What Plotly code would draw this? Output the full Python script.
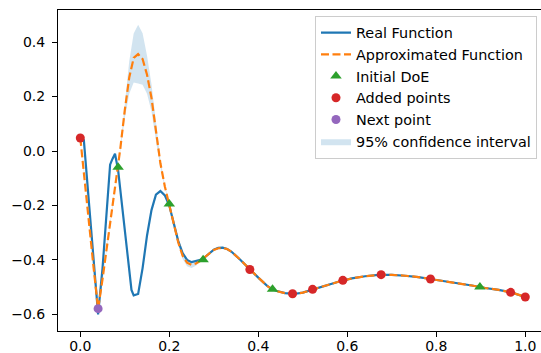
import plotly.graph_objects as go

# ---- data ----
# true objective sampled along [0, 1]
real_x = [0.0, 0.008, 0.02, 0.03, 0.04, 0.05, 0.06, 0.067, 0.072, 0.078, 0.085, 0.09,
          0.10, 0.11, 0.115, 0.12, 0.13, 0.14, 0.15, 0.16, 0.17, 0.18, 0.19, 0.20,
          0.21, 0.22, 0.23, 0.24, 0.25, 0.26, 0.27, 0.28, 0.29, 0.30, 0.31, 0.32,
          0.33, 0.34, 0.36, 0.38, 0.40, 0.42, 0.43, 0.44, 0.46, 0.48, 0.50, 0.52,
          0.55, 0.58, 0.61, 0.64, 0.67, 0.70, 0.73, 0.76, 0.79, 0.82, 0.85, 0.88,
          0.91, 0.94, 0.97, 1.0]
real_y = [0.05, 0.04, -0.20, -0.41, -0.60, -0.43, -0.20, -0.05, -0.03, -0.01, -0.07, -0.14,
          -0.30, -0.44, -0.51, -0.53, -0.525, -0.43, -0.31, -0.217, -0.16, -0.147, -0.163, -0.20,
          -0.27, -0.33, -0.375, -0.40, -0.408, -0.405, -0.40, -0.39, -0.375, -0.362, -0.356, -0.355,
          -0.36, -0.37, -0.40, -0.433, -0.465, -0.495, -0.506, -0.513, -0.522, -0.525, -0.52, -0.51,
          -0.495, -0.48, -0.468, -0.46, -0.455, -0.455, -0.458, -0.463, -0.471, -0.478, -0.485, -0.494,
          -0.503, -0.51, -0.52, -0.536]

# surrogate (kriging) prediction and its 95% half-width
approx_x = [0.0, 0.01, 0.02, 0.03, 0.04, 0.05, 0.06, 0.07, 0.08, 0.085, 0.09, 0.10,
            0.11, 0.12, 0.13, 0.14, 0.15, 0.16, 0.17, 0.18, 0.19, 0.20, 0.21, 0.22,
            0.23, 0.24, 0.25, 0.26, 0.27, 0.28, 0.29, 0.30, 0.31, 0.32, 0.33, 0.34,
            0.36, 0.38, 0.40, 0.42, 0.43, 0.44, 0.46, 0.48, 0.50, 0.52, 0.55, 0.58,
            0.61, 0.64, 0.67, 0.70, 0.73, 0.76, 0.79, 0.82, 0.85, 0.88, 0.91, 0.94,
            0.97, 1.0]
approx_y = [0.048, -0.10, -0.27, -0.43, -0.58, -0.47, -0.35, -0.235, -0.12, -0.06, 0.01, 0.15,
            0.27, 0.342, 0.356, 0.338, 0.28, 0.195, 0.07, -0.045, -0.13, -0.195, -0.27, -0.335,
            -0.385, -0.41, -0.418, -0.413, -0.403, -0.39, -0.376, -0.363, -0.357, -0.356, -0.36, -0.37,
            -0.40, -0.434, -0.465, -0.495, -0.507, -0.514, -0.522, -0.525, -0.52, -0.51, -0.495, -0.48,
            -0.468, -0.46, -0.455, -0.455, -0.458, -0.463, -0.471, -0.478, -0.485, -0.494, -0.503, -0.51,
            -0.52, -0.536]
ci_half = [0.0, 0.01, 0.015, 0.01, 0.0, 0.008, 0.012, 0.01, 0.005, 0.0, 0.005, 0.03,
           0.06, 0.09, 0.108, 0.095, 0.07, 0.05, 0.03, 0.015, 0.005, 0.0, 0.005, 0.01,
           0.012, 0.013, 0.012, 0.008, 0.003, 0.0, 0.003, 0.004, 0.004, 0.004, 0.003, 0.002,
           0.0, 0.0, 0.002, 0.001, 0.0, 0.0, 0.0, 0.0, 0.0, 0.0, 0.0, 0.0,
           0.0, 0.0, 0.0, 0.0, 0.0, 0.0, 0.0, 0.0, 0.0, 0.0, 0.0, 0.0,
           0.0, 0.0]

doe_x = [0.085, 0.2, 0.276, 0.432, 0.898]
doe_y = [-0.06, -0.195, -0.399, -0.508, -0.499]

added_x = [0.0, 0.381, 0.477, 0.522, 0.590, 0.676, 0.787, 0.967, 1.0]
added_y = [0.048, -0.435, -0.524, -0.508, -0.475, -0.454, -0.470, -0.519, -0.536]

next_x = [0.04]
next_y = [-0.579]

x_ticks = [0.0, 0.2, 0.4, 0.6, 0.8, 1.0]
y_ticks = [-0.6, -0.4, -0.2, 0.0, 0.2, 0.4]

# ---- figure ----
C0, C1, C2, C3, C4 = "#1f77b4", "#ff7f0e", "#2ca02c", "#d62728", "#9467bd"

ci_upper = [m + h for m, h in zip(approx_y, ci_half)]
ci_lower = [m - h for m, h in zip(approx_y, ci_half)]

fig = go.Figure()

fig.add_trace(go.Scatter(x=approx_x, y=ci_upper, mode="lines", line=dict(width=0),
                         showlegend=False, hoverinfo="skip"))
fig.add_trace(go.Scatter(x=approx_x, y=ci_lower, mode="lines", line=dict(width=0),
                         fill="tonexty", fillcolor="rgba(31,119,180,0.2)",
                         name="95% confidence interval", legendrank=6))

fig.add_trace(go.Scatter(x=real_x, y=real_y, mode="lines", line=dict(color=C0, width=2.2),
                         name="Real Function", legendrank=1))
fig.add_trace(go.Scatter(x=approx_x, y=approx_y, mode="lines",
                         line=dict(color=C1, width=2.2, dash="8px,3.5px"),
                         name="Approximated Function", legendrank=2))
fig.add_trace(go.Scatter(x=doe_x, y=doe_y, mode="markers",
                         marker=dict(symbol="triangle-up", size=10, color=C2, line=dict(width=0)),
                         name="Initial DoE", legendrank=3))
fig.add_trace(go.Scatter(x=added_x, y=added_y, mode="markers",
                         marker=dict(symbol="circle", size=9, color=C3, line=dict(width=0)),
                         name="Added points", legendrank=4))
fig.add_trace(go.Scatter(x=next_x, y=next_y, mode="markers",
                         marker=dict(symbol="circle", size=9, color=C4, line=dict(width=0)),
                         name="Next point", legendrank=5))

axis_font = dict(family="DejaVu Sans", size=14, color="#000000")

fig.update_layout(
    width=541, height=353,
    margin=dict(l=58, r=0, t=10, b=22, autoexpand=False),
    paper_bgcolor="white", plot_bgcolor="white",
    font=dict(family="DejaVu Sans", size=14, color="#000000"),
    showlegend=True,
    legend=dict(x=0.9917, y=0.982, xanchor="right", yanchor="top", traceorder="normal",
                bgcolor="rgba(255,255,255,0.8)", bordercolor="#cccccc", borderwidth=1,
                font=dict(family="DejaVu Sans", size=14.4, color="#000000")),
    xaxis=dict(range=[-0.0501, 1.0353], tickvals=x_ticks, tickformat=".1f",
               showgrid=False, zeroline=False, showline=True, mirror=True,
               linecolor="#000000", linewidth=1, ticks="outside", ticklen=5,
               tickcolor="#000000", tickwidth=1, tickfont=axis_font, automargin=False,
               ticklabelstandoff=-3),
    yaxis=dict(range=[-0.661, 0.518], tickvals=y_ticks, tickformat=".1f",
               showgrid=False, zeroline=False, showline=True, mirror=False,
               linecolor="#000000", linewidth=1, ticks="outside", ticklen=5,
               tickcolor="#000000", tickwidth=1, tickfont=axis_font, automargin=False,
               ticklabelstandoff=4),
)

fig.write_html("out.html")
